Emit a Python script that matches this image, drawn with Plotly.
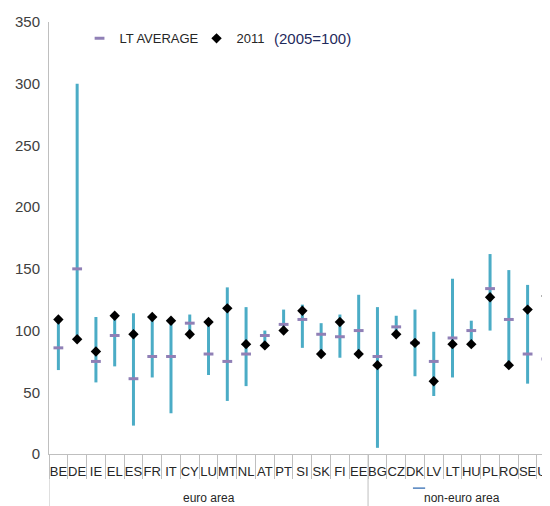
import numpy as np
import plotly.graph_objects as go

# ---------- data (2005=100) ----------
euro = ['BE', 'DE', 'IE', 'EL', 'ES', 'FR', 'IT', 'CY', 'LU', 'MT', 'NL', 'AT',
        'PT', 'SI', 'SK', 'FI', 'EE']
non_euro = ['BG', 'CZ', 'DK', 'LV', 'LT', 'HU', 'PL', 'RO', 'SE', 'UK']
countries = euro + non_euro

val_2011 = [109, 93, 83, 112, 97, 111, 108, 97, 107, 118, 89, 88,
            100, 116, 81, 107, 81, 72, 97, 90, 59, 89, 89, 127, 72, 117, 128]
lt_avg = [86, 150, 75, 96, 61, 79, 79, 106, 81, 75, 81, 96,
          105, 109, 97, 95, 100, 79, 103, 90, 75, 94, 100, 134, 109, 81, 77]
range_min = [68, 93, 58, 71, 23, 62, 33, 97, 64, 43, 55, 88,
             100, 86, 81, 78, 81, 5, 97, 63, 47, 62, 89, 100, 72, 57, 49]
range_max = [110, 300, 111, 112, 114, 111, 108, 113, 110, 135, 119, 100,
             117, 121, 106, 113, 129, 119, 112, 117, 99, 142, 108, 162, 149, 137, 128]

y_ticks = [0, 50, 100, 150, 200, 250, 300, 350]

FONT = 'Liberation Sans, Arial, sans-serif'
AXIS_GREY = '#BFBFBF'

fig = go.Figure()

# min-max range as vertical bars
fig.add_trace(go.Scatter(
    x=countries, y=range_min, mode='markers',
    marker=dict(size=1, opacity=0),
    error_y=dict(type='data', symmetric=False,
                 array=np.array(range_max) - np.array(range_min),
                 arrayminus=[0] * len(countries),
                 width=0, thickness=3, color='#4BACC6'),
    showlegend=False, hoverinfo='skip'))

fig.add_trace(go.Scatter(
    x=countries, y=lt_avg, mode='markers', name='LT AVERAGE',
    marker=dict(symbol='line-ew', size=7, line=dict(width=3, color='#9080B6'))))

fig.add_trace(go.Scatter(
    x=countries, y=val_2011, mode='markers', name='2011',
    marker=dict(symbol='diamond', size=8, color='black')))

n_euro = len(euro)
ext = -0.125  # divider runs down to the bottom of the page

# left edge and euro / non-euro divider through the label band
for xb in [-0.5, n_euro - 0.5]:
    fig.add_shape(type='line', xref='x', yref='paper', x0=xb, x1=xb, y0=0, y1=ext,
                  line=dict(color=AXIS_GREY, width=1))

# stray legend key under the axis
fig.add_shape(type='line', xref='paper', yref='paper', x0=0.715, x1=0.739,
              y0=-0.079, y1=-0.079, line=dict(color='#4F81BD', width=1.5))

fig.add_annotation(x=(n_euro - 1) / 2, y=-0.103, xref='x', yref='paper',
                   text='euro area', showarrow=False, yanchor='middle',
                   font=dict(family=FONT, size=12, color='#262626'))
fig.add_annotation(x=n_euro + (len(non_euro) - 1) / 2, y=-0.103, xref='x', yref='paper',
                   text='non-euro area', showarrow=False, yanchor='middle',
                   font=dict(family=FONT, size=12, color='#262626'))
fig.add_annotation(x=0.518, y=0.962, xref='paper', yref='paper',
                   text='(2005=100)', showarrow=False, yanchor='middle',
                   font=dict(family=FONT, size=15, color='#1F2A5C'))

# the page body adds 8px, so margins are trimmed by that amount
fig.update_layout(
    width=550, height=506,
    margin=dict(l=41, r=0, t=14, b=60, autoexpand=False),
    plot_bgcolor='white', paper_bgcolor='white',
    font=dict(family=FONT, size=13, color='#404040'),
    legend=dict(orientation='h', x=0.06, y=0.962, xanchor='left', yanchor='middle',
                bgcolor='rgba(0,0,0,0)', font=dict(size=13, color='#262626'),
                itemwidth=30, entrywidth=72, entrywidthmode='pixels'),
    xaxis=dict(type='category', categoryorder='array', categoryarray=countries,
               range=[-0.5, 26.62], showgrid=False, showline=True, linecolor=AXIS_GREY,
               ticks='outside', tickson='boundaries', ticklen=24, tickcolor=AXIS_GREY,
               ticklabelstandoff=5, tickangle=0,
               tickfont=dict(size=13, color='#262626')),
    yaxis=dict(range=[0, 350], tickvals=y_ticks, showgrid=False, zeroline=False,
               showline=True, linecolor=AXIS_GREY, ticks='', ticklabelstandoff=5,
               tickfont=dict(size=15, color='#404040')),
)

fig.write_html('out.html')
